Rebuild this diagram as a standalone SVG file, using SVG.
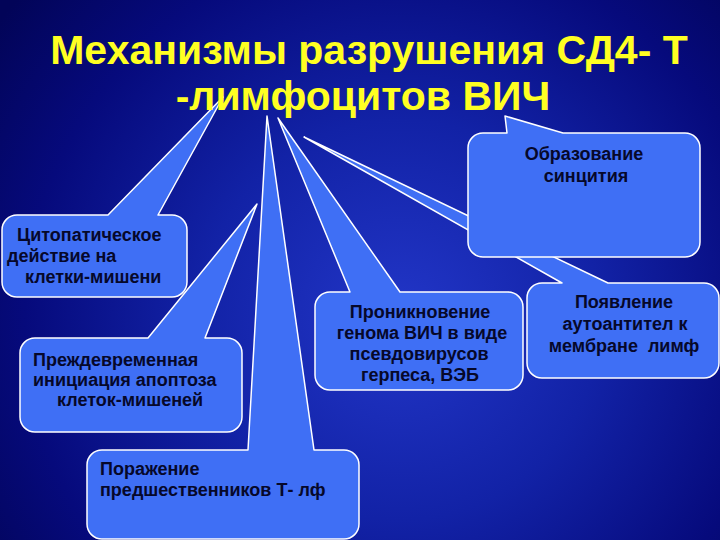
<svg xmlns="http://www.w3.org/2000/svg" width="720" height="540" viewBox="0 0 720 540">
<defs>
<radialGradient id="bg" cx="400" cy="320" r="500" gradientUnits="userSpaceOnUse">
<stop offset="0" stop-color="#2236c8"/>
<stop offset="0.4" stop-color="#1222a6"/>
<stop offset="0.75" stop-color="#060a7c"/>
<stop offset="1" stop-color="#020458"/>
</radialGradient>
<style>
.c{fill:#3f6ff5;stroke:#ffffff;stroke-width:1.5;stroke-linejoin:round}
.t{font-family:"Liberation Sans",Arial,sans-serif;font-weight:bold;font-size:18px;fill:#06082a}
.m{text-anchor:middle}
.h{font-family:"Liberation Sans",Arial,sans-serif;font-weight:bold;font-size:41px;fill:#ffff22;text-anchor:middle}
</style>
</defs>
<rect width="720" height="540" fill="url(#bg)"/>
<g id="connectors"/>
<g id="n1">
<path class="c" d="M17,215 L108,215 L223,97 L158,215 L172,215 A15,15 0 0 1 187,230 L187,282 A15,15 0 0 1 172,297 L17,297 A15,15 0 0 1 2,282 L2,230 A15,15 0 0 1 17,215 Z"/>
<text class="t" x="17" y="241">Цитопатическое</text>
<text class="t" x="7" y="262">действие на</text>
<text class="t" x="25" y="283">клетки-мишени</text>
</g>
<g id="n2">
<path class="c" d="M35,338 L148,338 L257,204 L205,338 L227,338 A15,15 0 0 1 242,353 L242,417 A15,15 0 0 1 227,432 L35,432 A15,15 0 0 1 20,417 L20,353 A15,15 0 0 1 35,338 Z"/>
<text class="t" x="33" y="366">Преждевременная</text>
<text class="t" x="33" y="386">инициация апоптоза</text>
<text class="t" x="57" y="406">клеток-мишеней</text>
</g>
<g id="n3">
<path class="c" d="M102,450 L248,450 L267,116 L314,450 L344,450 A15,15 0 0 1 359,465 L359,524 A15,15 0 0 1 344,539 L102,539 A15,15 0 0 1 87,524 L87,465 A15,15 0 0 1 102,450 Z"/>
<text class="t" x="100" y="475">Поражение</text>
<text class="t" x="100" y="496">предшественников Т- лф</text>
</g>
<g id="n4">
<path class="c" d="M330,292 L350,292 L278,118 L400,292 L508,292 A15,15 0 0 1 523,307 L523,375 A15,15 0 0 1 508,390 L330,390 A15,15 0 0 1 315,375 L315,307 A15,15 0 0 1 330,292 Z"/>
<text class="t m" x="420" y="318">Проникновение</text>
<text class="t m" x="422" y="339">генома ВИЧ в виде</text>
<text class="t m" x="419" y="360">псевдовирусов</text>
<text class="t m" x="420" y="381">герпеса, ВЭБ</text>
</g>
<g id="n5">
<path class="c" d="M542,283 L562,283 L304,137 L608,283 L704,283 A15,15 0 0 1 719,298 L719,363 A15,15 0 0 1 704,378 L542,378 A15,15 0 0 1 527,363 L527,298 A15,15 0 0 1 542,283 Z"/>
<text class="t m" x="624" y="308">Появление</text>
<text class="t m" x="625" y="330">аутоантител к</text>
<text class="t m" x="624" y="352">мембране&#160; лимф</text>
</g>
<g id="n6">
<path class="c" d="M483,133 L507,133 L505,116 L563,133 L685,133 A15,15 0 0 1 700,148 L700,242 A15,15 0 0 1 685,257 L483,257 A15,15 0 0 1 468,242 L468,148 A15,15 0 0 1 483,133 Z"/>
<text class="t m" x="584" y="160">Образование</text>
<text class="t m" x="586" y="182">синцития</text>
</g>
<g id="title">
<text class="h" x="369" y="64">Механизмы разрушения СД4- Т</text>
<text class="h" x="363" y="110">-лимфоцитов ВИЧ</text>
</g>
</svg>
